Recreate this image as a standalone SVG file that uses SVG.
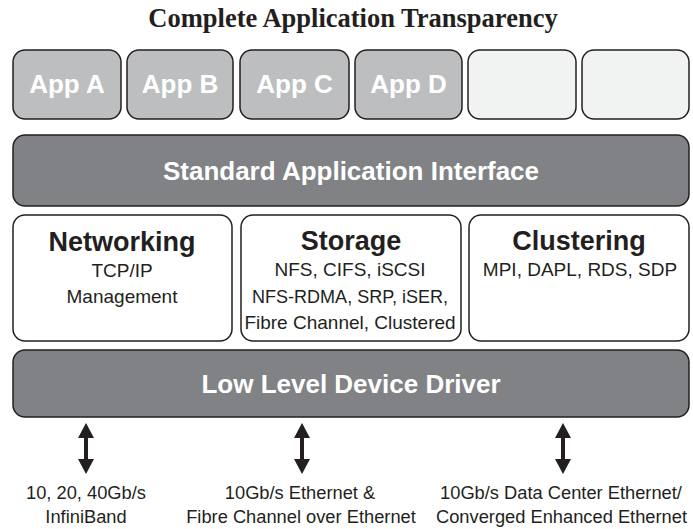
<svg xmlns="http://www.w3.org/2000/svg" width="693" height="529" viewBox="0 0 693 529">
  <defs>
    <style>
      .app { fill: #bcbec0; stroke: #231f20; stroke-width: 1.5; }
      .empty { fill: #f1f2f2; stroke: #231f20; stroke-width: 1.5; }
      .bar { fill: #808285; stroke: #231f20; stroke-width: 1.5; }
      .box { fill: #ffffff; stroke: #231f20; stroke-width: 1.5; }
      .wl { font-family: "Liberation Sans", Arial, sans-serif; font-weight: bold; font-size: 26px; fill: #ffffff; text-anchor: middle; }
      .hd { font-family: "Liberation Sans", Arial, sans-serif; font-weight: bold; font-size: 27px; fill: #231f20; text-anchor: middle; }
      .sm { font-family: "Liberation Sans", Arial, sans-serif; font-size: 19px; fill: #231f20; text-anchor: middle; }
      .bt { font-family: "Liberation Sans", Arial, sans-serif; font-size: 18.3px; fill: #231f20; text-anchor: middle; }
      .title { font-family: "Liberation Serif", "Times New Roman", serif; font-weight: bold; font-size: 26.5px; fill: #231f20; text-anchor: middle; }
      .arr { fill: #231f20; }
    </style>
    <g id="arrowShape">
      <rect x="-2" y="436" width="4" height="24" class="arr"/>
      <polygon points="0,423 8,438 -8,438" class="arr"/>
      <polygon points="0,474 8,459 -8,459" class="arr"/>
    </g>
  </defs>
  <rect width="693" height="529" fill="#ffffff"/>

  <text class="title" x="353" y="27">Complete Application Transparency</text>

  <g id="app-a">
    <rect class="app" x="13" y="50" width="108" height="69" rx="12"/>
    <text class="wl" x="67" y="93">App A</text>
  </g>
  <g id="app-b">
    <rect class="app" x="127" y="50" width="106" height="69" rx="12"/>
    <text class="wl" x="180" y="93">App B</text>
  </g>
  <g id="app-c">
    <rect class="app" x="240" y="50" width="109" height="69" rx="12"/>
    <text class="wl" x="294.5" y="93">App C</text>
  </g>
  <g id="app-d">
    <rect class="app" x="355" y="50" width="107" height="69" rx="12"/>
    <text class="wl" x="408.5" y="93">App D</text>
  </g>
  <g id="app-empty-1">
    <rect class="empty" x="468" y="50" width="108" height="69" rx="12"/>
  </g>
  <g id="app-empty-2">
    <rect class="empty" x="582" y="50" width="107" height="69" rx="12"/>
  </g>

  <g id="standard-interface">
    <rect class="bar" x="13" y="135" width="676" height="71" rx="12"/>
    <text class="wl" x="351" y="180">Standard Application Interface</text>
  </g>

  <g id="networking">
    <rect class="box" x="13" y="215" width="219" height="126" rx="12"/>
    <text class="hd" x="122" y="251">Networking</text>
    <text class="sm" x="122" y="277">TCP/IP</text>
    <text class="sm" x="122" y="303">Management</text>
  </g>
  <g id="storage">
    <rect class="box" x="241" y="215" width="220" height="126" rx="12"/>
    <text class="hd" x="351" y="250">Storage</text>
    <text class="sm" x="350" y="276">NFS, CIFS, iSCSI</text>
    <text class="sm" x="350" y="303" textLength="196" lengthAdjust="spacingAndGlyphs">NFS-RDMA, SRP, iSER,</text>
    <text class="sm" x="350" y="329">Fibre Channel, Clustered</text>
  </g>
  <g id="clustering">
    <rect class="box" x="469" y="215" width="220" height="126" rx="12"/>
    <text class="hd" x="579" y="250">Clustering</text>
    <text class="sm" x="580" y="276">MPI, DAPL, RDS, SDP</text>
  </g>

  <g id="device-driver">
    <rect class="bar" x="13" y="350" width="676" height="67" rx="12"/>
    <text class="wl" x="351" y="393">Low Level Device Driver</text>
  </g>

  <g id="connectors">
    <use href="#arrowShape" transform="translate(86,0)"/>
    <use href="#arrowShape" transform="translate(302,0)"/>
    <use href="#arrowShape" transform="translate(563,0)"/>
  </g>

  <g id="link-infiniband">
    <text class="bt" x="86" y="499">10, 20, 40Gb/s</text>
    <text class="bt" x="86" y="523">InfiniBand</text>
  </g>
  <g id="link-ethernet-fc">
    <text class="bt" x="300" y="499">10Gb/s Ethernet &amp;</text>
    <text class="bt" x="301" y="523">Fibre Channel over Ethernet</text>
  </g>
  <g id="link-dce">
    <text class="bt" x="561" y="499">10Gb/s Data Center Ethernet/</text>
    <text class="bt" x="561.5" y="523">Converged Enhanced Ethernet</text>
  </g>
</svg>
